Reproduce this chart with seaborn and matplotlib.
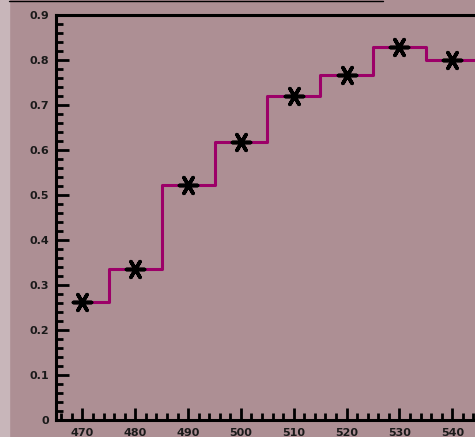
import matplotlib
matplotlib.use("Agg")
import matplotlib.pyplot as plt
import seaborn as sns
from matplotlib.ticker import MultipleLocator, FixedLocator

# data
wavelength = [470, 480, 490, 500, 510, 520, 530, 540, 550]
response = [0.262, 0.335, 0.522, 0.618, 0.720, 0.766, 0.828, 0.800, 0.800]
x_ticks = [470, 480, 490, 500, 510, 520, 530, 540]
y_ticks = [0, 0.1, 0.2, 0.3, 0.4, 0.5, 0.6, 0.7, 0.8, 0.9]
y_labels = ["0", "0.1", "0.2", "0.3", "0.4", "0.5", "0.6", "0.7", "0.8", "0.9"]

bg = "#ad8f94"
line_color = "#9c0068"

sns.set_theme(style="ticks")
plt.rcParams["font.family"] = ["DejaVu Sans"]

W, H = 475, 437
fig = plt.figure(figsize=(W / 100, H / 100), dpi=100)
fig.patch.set_facecolor(bg)

# light strip on the left edge (part of the outer frame)
fig.add_artist(plt.Rectangle((0, 0), 9 / W, 1, transform=fig.transFigure,
                             color="#c8b6ba", zorder=0))
fig.add_artist(plt.Line2D([9 / W, 383 / W], [1 - 0.5 / H, 1 - 0.5 / H],
                          transform=fig.transFigure, color="black", lw=1))

left, right = 56, 475
bottom, top = 420, 15
ax = fig.add_axes([left / W, 1 - bottom / H, (right - left) / W, (bottom - top) / H])
ax.set_facecolor(bg)

sns.lineplot(x=wavelength, y=response, ax=ax, drawstyle="steps-mid",
             color=line_color, linewidth=2.2, zorder=2)
sns.scatterplot(x=wavelength[:-1], y=response[:-1], ax=ax, marker=(6, 2, 90),
                s=170, color="black", linewidth=2.6, edgecolor="black", zorder=3)

ax.set_xlim(465, 544.3)
ax.set_ylim(0, 0.9)

ax.xaxis.set_major_locator(FixedLocator(x_ticks))
ax.xaxis.set_minor_locator(MultipleLocator(2))
ax.yaxis.set_major_locator(FixedLocator(y_ticks))
ax.yaxis.set_minor_locator(MultipleLocator(0.02))
ax.set_yticklabels(y_labels)

ax.tick_params(which="both", direction="in", color="black", width=2,
               labelsize=8, labelcolor="#1a1a1a")
ax.tick_params(which="major", length=9)
ax.tick_params(which="minor", length=5)
ax.tick_params(axis="y", pad=5)
ax.tick_params(axis="x", pad=6)
for lbl in ax.get_xticklabels() + ax.get_yticklabels():
    lbl.set_fontweight("bold")

for side in ["left", "bottom", "top"]:
    ax.spines[side].set_linewidth(2.2)
    ax.spines[side].set_color("black")
ax.spines["right"].set_visible(False)

ax.set_xlabel("")
ax.set_ylabel("")

fig.savefig("out.png", dpi=100, facecolor=bg)
